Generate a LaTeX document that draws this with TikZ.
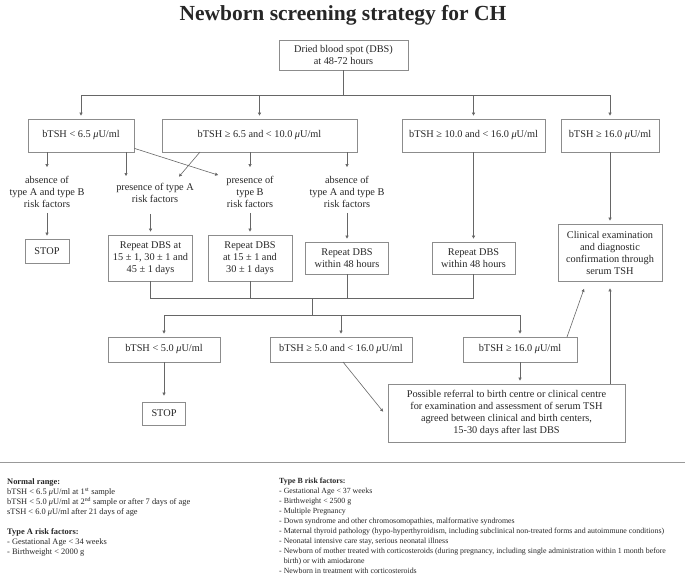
\documentclass[tikz,border=0pt]{standalone}
\usepackage{fontspec}
\setmainfont{Liberation Serif}
\usetikzlibrary{arrows.meta}
\newcommand{\muu}{\textit{μ}}
\begin{document}
\begin{tikzpicture}[x=1pt,y=-1pt,
  every node/.style={text=black!85, font=\fontsize{10.3}{12}\selectfont, align=center, inner sep=0pt},
  bx/.style={draw=black!45, line width=0.7pt, minimum width=#1},
  ln/.style={draw=black!60, line width=0.6pt},
  ar/.style={ln, -{Triangle[length=3pt,width=3pt]}, shorten >=3pt},
  legend/.style={align=left, anchor=north west}
]
\useasboundingbox (0,0) rectangle (685,578);

\node (title) at (343,15) {\fontsize{21.5}{25}\selectfont\bfseries Newborn screening strategy for CH};

\node[bx=129pt, minimum height=30pt] (dbs) at (343.5,55) {Dried blood spot (DBS)\\at 48-72 hours};

\node[bx=106pt, minimum height=33pt] (b1) at (81,135.5) {bTSH < 6.5 \muu U/ml};
\node[bx=195pt, minimum height=33pt] (b2) at (259.5,135.5) {bTSH ≥ 6.5 and < 10.0 \muu U/ml};
\node[bx=143pt, minimum height=33pt] (b3) at (473.5,135.5) {bTSH ≥ 10.0 and < 16.0 \muu U/ml};
\node[bx=98pt, minimum height=33pt] (b4) at (610,135.5) {bTSH ≥ 16.0 \muu U/ml};

\coordinate (j0) at (343.5,95);
\draw[ln] (dbs.south) -- (j0);
\draw[ln] (b1.north |- j0) -- (b4.north |- j0);
\foreach \b in {b1,b2,b3,b4} \draw[ar] (\b.north |- j0) -- (\b.north);

\node (t1) at (47,192) {absence of\\type A and type B\\risk factors};
\node (t2) at (155,193) {presence of type A\\risk factors};
\node (t3) at (250,192) {presence of\\type B\\risk factors};
\node (t4) at (347,192) {absence of\\type A and type B\\risk factors};

\coordinate (pA) at (126,152);
\coordinate (pAe) at (126,179);
\coordinate (pBe) at (221,176);
\coordinate (qA) at (200,152);
\coordinate (qAe) at (177,179);
\draw[ar] (b1.south -| t1) -- ([yshift=6pt]t1.north);
\draw[ar] (pA) -- (pAe);
\draw[ar] (b1.south east) ++(0,-4) -- (pBe);
\draw[ar] (qA) -- (qAe);
\draw[ar] (b2.south -| t3) -- ([yshift=6pt]t3.north);
\draw[ar] (b2.south -| t4) -- ([yshift=6pt]t4.north);

\node[bx=44pt, minimum height=24pt] (s1) at (47,251) {STOP};
\node[bx=84pt, minimum height=46pt] (rA) at (150.5,258) {Repeat DBS at\\15 ± 1, 30 ± 1 and\\45 ± 1 days};
\node[bx=84pt, minimum height=46pt] (rB) at (250,258) {Repeat DBS\\at 15 ± 1 and\\30 ± 1 days};
\node[bx=83pt, minimum height=32pt] (rC) at (347,258) {Repeat DBS\\within 48 hours};
\node[bx=83pt, minimum height=32pt] (rD) at (473.5,258) {Repeat DBS\\within 48 hours};
\node[bx=104pt, minimum height=57pt] (cl) at (610,252.5) {Clinical examination\\and diagnostic\\confirmation through\\serum TSH};

\draw[ar] ([yshift=-5pt]t1.south) -- (s1.north);
\draw[ar] ([yshift=-11pt]t2.south -| rA.north) -- (rA.north);
\draw[ar] ([yshift=-5pt]t3.south) -- (rB.north);
\draw[ar] ([yshift=-5pt]t4.south) -- (rC.north);
\draw[ar] (b3.south) -- (rD.north);
\draw[ar] (b4.south) -- (cl.north);

\coordinate (j1) at (312,298);
\coordinate (j2) at (312,315);
\draw[ln] (rA.south) -- (rA.south |- j1) -- (rD.south |- j1) -- (rD.south);
\draw[ln] (rB.south) -- (rB.south |- j1);
\draw[ln] (rC.south) -- (rC.south |- j1);
\draw[ln] (j1) -- (j2);

\node[bx=112pt, minimum height=25pt] (c1) at (164,349.5) {bTSH < 5.0 \muu U/ml};
\node[bx=142pt, minimum height=25pt] (c2) at (341,349.5) {bTSH ≥ 5.0 and < 16.0 \muu U/ml};
\node[bx=114pt, minimum height=25pt] (c3) at (520,349.5) {bTSH ≥ 16.0 \muu U/ml};

\draw[ln] (c1.north |- j2) -- (c3.north |- j2);
\foreach \c in {c1,c2,c3} \draw[ar] (\c.north |- j2) -- (\c.north);

\node[bx=43pt, minimum height=23pt] (s2) at (164,413.5) {STOP};
\node[bx=237pt, minimum height=58pt] (ref) at (506.5,413) {Possible referral to birth centre or clinical centre\\for examination and assessment of serum TSH\\agreed between clinical and birth centers,\\15-30 days after last DBS};

\coordinate (cA) at (585,286);
\coordinate (rf) at (385,414);
\coordinate (c2s) at (343,362);
\coordinate (c3n) at (567,337);
\draw[ar] (c1.south) -- ([yshift=3pt]s2.north);
\draw[ar] (c3.south) -- (ref.north -| c3.south);
\draw[ar] (c2s) -- (rf);
\draw[ar] (c3n) -- (cA);
\draw[ar] (ref.north -| cl.south) -- ([yshift=-4pt]cl.south);

\draw[draw=black!40, line width=0.6pt] (0,462) -- (685,462);

\node[legend, font=\fontsize{8.4}{10}\selectfont] (lg1) at (7,478) {\textbf{Normal range:}\\
bTSH < 6.5 \muu U/ml at 1\textsuperscript{st} sample\\
bTSH < 5.0 \muu U/ml at 2\textsuperscript{nd} sample or after 7 days of age\\
sTSH < 6.0 \muu U/ml after 21 days of age\\[10pt]
\textbf{Type A risk factors:}\\
- Gestational Age < 34 weeks\\
- Birthweight < 2000 g};

\node[legend, font=\fontsize{7.85}{10}\selectfont] (lg2) at (279,478) {\textbf{Type B risk factors:}\\
- Gestational Age < 37 weeks\\
- Birthweight < 2500 g\\
- Multiple Pregnancy\\
- Down syndrome and other chromosomopathies, malformative syndromes\\
- Maternal thyroid pathology (hypo-hyperthyroidism, including subclinical non-treated forms and autoimmune conditions)\\
- Neonatal intensive care stay, serious neonatal illness\\
- Newborn of mother treated with corticosteroids (during pregnancy, including single administration within 1 month before\\
\hphantom{- }birth) or with amiodarone\\
- Newborn in treatment with corticosteroids};
\end{tikzpicture}
\end{document}
